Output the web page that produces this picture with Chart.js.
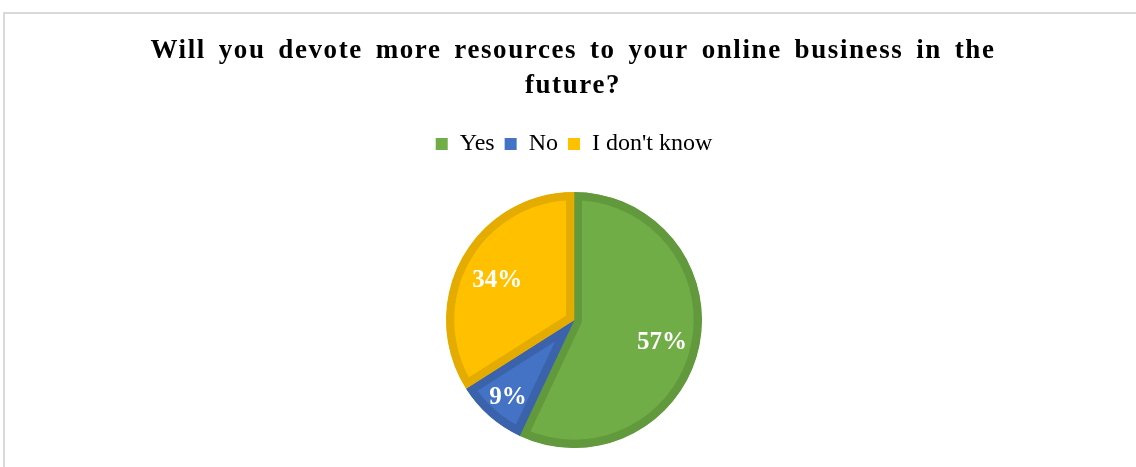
<!DOCTYPE html>
<html>
<head>
<meta charset="utf-8">
<script src="https://cdn.jsdelivr.net/npm/chart.js@4"></script>
<style>
  html, body { margin: 0; padding: 0; background: #fff; overflow: hidden; }
  #wrap { position: absolute; left: 0; top: 0; width: 1136px; height: 467px; }
  #frame { position: absolute; left: 3px; top: 12px; width: 1160px; height: 480px;
           border: 2px solid #d9d9d9; box-sizing: border-box; }
</style>
</head>
<body>
<div id="wrap">
  <div id="frame"></div>
  <canvas id="pieChart" width="1136" height="467"></canvas>
</div>
<script>
// Survey answers
const categories = ['Yes', 'No', "I don't know"];
const shares = [57, 9, 34];
const fillColors = ['#70ad47', '#4472c4', '#ffc000'];
const edgeColors = ['#62993c', '#3b63ab', '#e5ac00'];
const titleLines = ['Will you devote more resources to your online business in the', 'future?'];

// percentage labels sit at different depths inside each slice
const labelDepth = [0.705, 0.78, 0.685];

const serif = '"Liberation Serif", "Times New Roman", serif';

const sliceLabels = {
    id: 'sliceLabels',
    afterDatasetsDraw(chart) {
        const ctx = chart.ctx;
        const meta = chart.getDatasetMeta(0);
        ctx.save();
        ctx.font = 'bold 25px ' + serif;
        ctx.fillStyle = '#ffffff';
        ctx.textAlign = 'center';
        ctx.textBaseline = 'middle';
        meta.data.forEach((arc, i) => {
            const mid = (arc.startAngle + arc.endAngle) / 2;
            const r = arc.outerRadius * labelDepth[i];
            ctx.fillText(shares[i] + '%', arc.x + Math.cos(mid) * r, arc.y + Math.sin(mid) * r + 3);
        });
        ctx.restore();
    }
};

// title drawn by hand: slightly spaced letters, the first line
// stretched to a fixed width through the word gaps
const titleWidth = 845;
const spacedTitle = {
    id: 'spacedTitle',
    afterDraw(chart) {
        const ctx = chart.ctx;
        ctx.save();
        ctx.font = 'bold 27px ' + serif;
        ctx.letterSpacing = '1.6px';
        ctx.wordSpacing = '0px';
        const first = titleLines[0];
        const gaps = first.split(' ').length - 1;
        const extra = (titleWidth - ctx.measureText(first).width) / gaps;
        ctx.wordSpacing = Math.max(0, extra) + 'px';
        ctx.fillStyle = '#000000';
        ctx.textAlign = 'center';
        ctx.textBaseline = 'alphabetic';
        titleLines.forEach((line, i) => {
            ctx.fillText(line, 573, 58 + i * 35);
        });
        ctx.restore();
    }
};

// extra room between the legend and the pie
const legendGap = {
    id: 'legendGap',
    beforeInit(chart) {
        const fit = chart.legend.fit;
        chart.legend.fit = function () {
            fit.call(this);
            this.height += 26;
        };
    }
};

new Chart(document.getElementById('pieChart').getContext('2d'), {
    type: 'pie',
    data: {
        labels: categories,
        datasets: [{
            data: shares,
            backgroundColor: fillColors,
            borderColor: edgeColors,
            borderWidth: 8,
            borderAlign: 'inner'
        }]
    },
    options: {
        responsive: false,
        animation: false,
        layout: { padding: { top: 122, left: 12, bottom: 19 } },
        plugins: {
            title: { display: false },
            legend: {
                position: 'top',
                labels: {
                    color: '#000000',
                    boxWidth: 12,
                    boxHeight: 12,
                    padding: 10,
                    font: { family: serif, size: 24 },
                    generateLabels(chart) {
                        return categories.map((name, i) => ({
                            text: name,
                            fillStyle: fillColors[i],
                            strokeStyle: fillColors[i],
                            lineWidth: 0,
                            hidden: false,
                            index: i
                        }));
                    }
                }
            },
            tooltip: { enabled: false }
        }
    },
    plugins: [legendGap, sliceLabels, spacedTitle]
});
</script>
</body>
</html>
